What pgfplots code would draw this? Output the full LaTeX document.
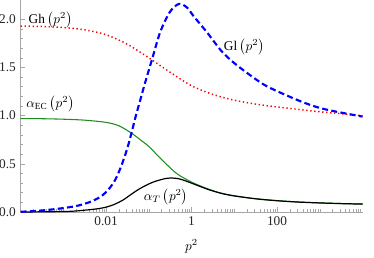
\documentclass[border=0pt]{standalone}
\usepackage{fontspec}
\setmainfont{Liberation Serif}
\usepackage{pgfplots}
\usepackage{pgfplotstable}
\pgfplotsset{compat=1.18}

\pgfplotstableread{
lx y
-4 1.93
-3.5 1.925
-3 1.915
-2.5 1.89
-2 1.84
-1.5 1.74
-1 1.60
-0.5 1.45
0 1.31
0.5 1.22
1 1.16
1.5 1.12
2 1.09
2.5 1.065
3 1.04
3.5 1.02
4 1.0
}\ghdata

\pgfplotstableread{
lx y
-4 0.003
-3.66 0.01
-3.19 0.03
-2.72 0.06
-2.4 0.10
-2.14 0.155
-1.95 0.23
-1.79 0.33
-1.65 0.47
-1.51 0.65
-1.41 0.81
-1.32 0.97
-1.2 1.16
-1.1 1.32
-0.92 1.59
-0.73 1.87
-0.5 2.08
-0.29 2.16
-0.1 2.12
0.035 2.04
0.37 1.86
0.7 1.67
1.0 1.545
1.37 1.42
1.7 1.32
2.07 1.24
2.6 1.14
3.0 1.08
3.4 1.04
4 0.99
}\gldata

\pgfplotstableread{
lx y
-4 0.0
-3.5 0.002
-3 0.005
-2.72 0.01
-2.26 0.03
-2 0.05
-1.79 0.082
-1.6 0.125
-1.39 0.19
-1.2 0.245
-0.9 0.31
-0.57 0.35
-0.3 0.345
0 0.30
0.2 0.265
0.43 0.228
0.7 0.193
1.0 0.167
1.5 0.137
2 0.117
2.5 0.103
3 0.094
3.5 0.087
4 0.082
}\atdata

\pgfplotstableread{
lx y
-4 0.97
-3.5 0.968
-3 0.963
-2.5 0.953
-2 0.93
-1.7 0.895
-1.41 0.82
-1.2 0.75
-1.0 0.68
-0.7 0.545
-0.35 0.40
0 0.31
0.2 0.272
0.43 0.232
0.7 0.195
1.0 0.168
1.5 0.138
2 0.118
2.5 0.104
3 0.095
3.5 0.088
4 0.083
}\aecdata

\definecolor{mgreen}{RGB}{30,140,30}

\begin{document}
\begin{tikzpicture}
\begin{axis}[
  name=ax,
  scale only axis,
  width=256.5pt, height=159pt,
  xmode=log,
  xmin=1e-4, xmax=1e4,
  ymin=0, ymax=2.2,
  axis lines*=left,
  axis line style={gray!70, line width=0.5pt},
  tick align=inside,
  tick style={gray!70, line width=0.4pt},
  major tick length=3.5pt,
  minor tick length=2pt,
  xtick={1e-2,1,1e2},
  xticklabels={0.01,1,100},
  minor xtick={2e-4,3e-4,4e-4,5e-4,6e-4,7e-4,8e-4,9e-4,1e-3,
    2e-3,3e-3,4e-3,5e-3,6e-3,7e-3,8e-3,9e-3,
    2e-2,3e-2,4e-2,5e-2,6e-2,7e-2,8e-2,9e-2,0.1,
    0.2,0.3,0.4,0.5,0.6,0.7,0.8,0.9,
    2,3,4,5,6,7,8,9,10,20,30,40,50,60,70,80,90,
    200,300,400,500,600,700,800,900,1000,
    2000,3000,4000,5000,6000,7000,8000,9000},
  ytick={0,0.5,1,1.5,2},
  minor y tick num=4,
  yticklabel style={/pgf/number format/.cd, fixed, fixed zerofill, precision=1, assume math mode=true},
  ticklabel style={font=\normalsize, text=black!85},
  xlabel={$p^2$},
  xlabel style={at={(axis description cs:0.5,0)}, anchor=center, yshift=-25.5pt},
  clip=true,
]
\addplot[mgreen, line width=0.8pt, smooth] table[x expr={10^(\thisrow{lx})}, y=y] {\aecdata};
\addplot[black, line width=0.9pt, smooth] table[x expr={10^(\thisrow{lx})}, y=y] {\atdata};
\addplot[red, line width=1.1pt, dash pattern=on 1pt off 2pt, smooth] table[x expr={10^(\thisrow{lx})}, y=y] {\ghdata};
\addplot[blue, line width=1.6pt, dash pattern=on 4.5pt off 2.5pt, smooth] table[x expr={10^(\thisrow{lx})}, y=y] {\gldata};

\node[inner sep=1pt] at (axis cs:5e-4,1.99) {$\mathrm{Gh}\left(p^2\right)$};
\node[inner sep=1pt] at (axis cs:17,1.71) {$\mathrm{Gl}\left(p^2\right)$};
\node[inner sep=1pt] at (axis cs:5e-4,1.12) {$\alpha_{\mathrm{EC}}\left(p^2\right)$};
\node[inner sep=1pt] at (axis cs:0.25,0.155) {$\alpha_T\left(p^2\right)$};
\end{axis}
\pgfresetboundingbox
\path (ax.south west) ++(-15.4pt,-33.75pt) coordinate (bl);
\path (ax.north east) ++(8.6pt,0pt) coordinate (tr);
\useasboundingbox (bl) rectangle (tr);
\end{tikzpicture}
\end{document}
